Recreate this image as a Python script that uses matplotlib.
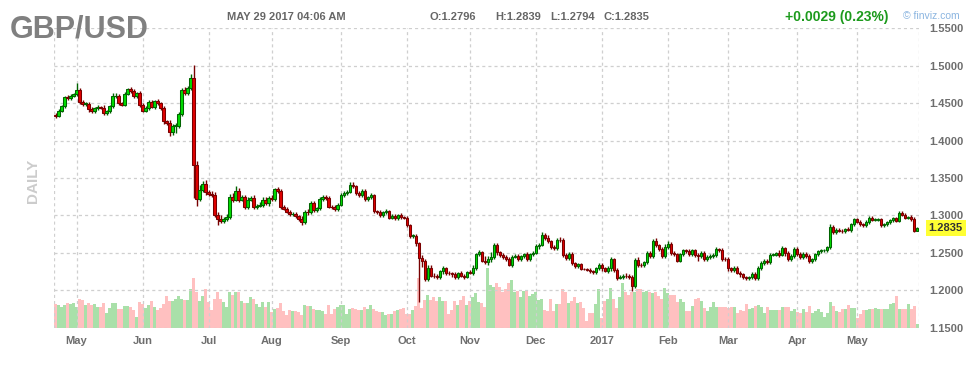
import numpy as np
import pandas as pd
import matplotlib
matplotlib.use("Agg")
import matplotlib.pyplot as plt
import matplotlib.transforms as mtransforms

plt.rcParams['font.family'] = ['Liberation Sans', 'DejaVu Sans']
plt.rcParams['lines.scale_dashes'] = False

# trading days shown on the chart
dates = pd.bdate_range("2016-04-21", "2017-05-29")

# daily closes, month by month
apr16 = [1.4330, 1.4400, 1.4455, 1.4575, 1.4565, 1.4600, 1.4615]
may16 = [1.4675, 1.4520, 1.4490, 1.4490, 1.4420, 1.4395, 1.4430, 1.4445, 1.4440, 1.4365, 1.4390,
         1.4455, 1.4590, 1.4600, 1.4500, 1.4480, 1.4625, 1.4690, 1.4660, 1.4590, 1.4630, 1.4480]
jun16 = [1.4400, 1.4430, 1.4515, 1.4450, 1.4525, 1.4500, 1.4440, 1.4255, 1.4240, 1.4110, 1.4200,
         1.4200, 1.4355, 1.4680, 1.4640, 1.4705, 1.4830, 1.3670, 1.3220, 1.3340, 1.3425, 1.3310]
jul16 = [1.3290, 1.3275, 1.3010, 1.2945, 1.2925, 1.2950, 1.2980, 1.3250, 1.3210, 1.3330, 1.3210,
         1.3240, 1.3110, 1.3210, 1.3230, 1.3110, 1.3130, 1.3140, 1.3210, 1.3160, 1.3225]
aug16 = [1.3220, 1.3350, 1.3330, 1.3110, 1.3085, 1.3045, 1.3015, 1.3020, 1.2990, 1.2955, 1.2905,
         1.3045, 1.3040, 1.3165, 1.3075, 1.3095, 1.3215, 1.3240, 1.3230, 1.3115, 1.3110, 1.3080, 1.3140]
sep16 = [1.3265, 1.3300, 1.3315, 1.3410, 1.3390, 1.3300, 1.3265, 1.3320, 1.3220, 1.3240, 1.3265,
         1.3055, 1.3040, 1.3000, 1.3040, 1.3055, 1.2970, 1.2995, 1.2960, 1.3000, 1.2975, 1.2970]
oct16 = [1.2865, 1.2725, 1.2725, 1.2625, 1.2430, 1.2385, 1.2150, 1.2300, 1.2195, 1.2190, 1.2180,
         1.2250, 1.2290, 1.2230, 1.2225, 1.2210, 1.2170, 1.2225, 1.2190, 1.2180, 1.2240]
nov16 = [1.2230, 1.2300, 1.2480, 1.2505, 1.2395, 1.2380, 1.2410, 1.2440, 1.2600, 1.2505, 1.2465,
         1.2445, 1.2410, 1.2340, 1.2445, 1.2460, 1.2415, 1.2455, 1.2480, 1.2420, 1.2480, 1.2500]
dec16 = [1.2585, 1.2605, 1.2735, 1.2700, 1.2655, 1.2570, 1.2560, 1.2670, 1.2665, 1.2470, 1.2430,
         1.2485, 1.2360, 1.2325, 1.2345, 1.2285, 1.2280, 1.2275, 1.2255, 1.2240, 1.2290, 1.2340]
jan17 = [1.2290, 1.2260, 1.2290, 1.2410, 1.2275, 1.2165, 1.2175, 1.2195, 1.2190, 1.2180, 1.2060,
         1.2400, 1.2340, 1.2335, 1.2370, 1.2490, 1.2455, 1.2660, 1.2600, 1.2555, 1.2455, 1.2580]
feb17 = [1.2620, 1.2500, 1.2480, 1.2395, 1.2480, 1.2530, 1.2520, 1.2485, 1.2530, 1.2475,
         1.2455, 1.2500, 1.2410, 1.2445, 1.2460, 1.2465, 1.2545, 1.2540, 1.2420, 1.2410]
mar17 = [1.2290, 1.2265, 1.2300, 1.2235, 1.2210, 1.2175, 1.2160, 1.2170, 1.2220, 1.2160, 1.2300,
         1.2360, 1.2390, 1.2380, 1.2475, 1.2475, 1.2490, 1.2475, 1.2560, 1.2495, 1.2415, 1.2460, 1.2550]
apr17 = [1.2480, 1.2440, 1.2485, 1.2460, 1.2390, 1.2410, 1.2480, 1.2520, 1.2530, 1.2530,
         1.2575, 1.2850, 1.2780, 1.2810, 1.2795, 1.2790, 1.2820, 1.2805, 1.2880, 1.2945]
may17 = [1.2915, 1.2880, 1.2865, 1.2910, 1.2965, 1.2940, 1.2940, 1.2945, 1.2875, 1.2880, 1.2910,
         1.2935, 1.2960, 1.2930, 1.3030, 1.3005, 1.2970, 1.2975, 1.2955, 1.2796, 1.2835]
first_open = 1.4345

# wick lengths in pips above / below the body
wick_hi = [20, 15, 25, 20, 30, 15, 25, 95, 25, 20, 30, 20, 25, 20, 25, 20, 30, 15, 25, 40,
           30, 20, 15, 20, 15, 30, 25, 20, 30, 20, 25, 20, 25, 20, 35, 20, 20, 25, 30, 20,
           40, 25, 20, 40, 30, 60, 185, 60, 60, 40, 50, 30, 40, 30, 40, 60, 30, 40, 30, 50,
           60, 40, 30, 30, 40, 30, 35, 25, 40, 30, 30, 30, 40, 20, 30, 20, 25, 20, 25, 30,
           25, 20, 30, 20, 40, 30, 30, 20, 30, 25, 30, 25, 20, 30, 20, 30, 25, 20, 30, 30,
           20, 25, 30, 25, 20, 30, 25, 20, 30, 20, 25, 20, 25, 20, 20, 25, 20, 20, 25, 30,
           30, 20, 40, 30, 40, 40, 30, 30, 25, 30, 20, 25, 20, 30, 20, 25, 20, 20, 25, 30,
           20, 30, 20, 60, 40, 75, 25, 30, 20, 30, 20, 35, 20, 25, 20, 20, 20, 25, 20, 20,
           25, 20, 40, 25, 30, 20, 30, 20, 40, 25, 25, 30, 25, 20, 20, 15, 15, 15, 20, 20,
           20, 20, 25, 20, 30, 30, 25, 20, 30, 20, 30, 25, 20, 25, 45, 25, 20, 30, 30, 20,
           30, 20, 25, 30, 40, 20, 25, 20, 20, 25, 20, 30, 20, 25, 25, 25, 20, 25, 20, 25,
           25, 20, 20, 20, 30, 25, 20, 20, 20, 20, 15, 20, 20, 20, 25, 30, 25, 20, 20, 25,
           25, 45, 25, 20, 25, 25, 20, 20, 25, 25, 30, 20, 20, 20, 20, 20, 15, 20, 30, 25,
           20, 20, 20, 15, 20, 20, 20, 25, 20, 20, 25, 20, 20, 20, 20, 15, 20, 15, 20, 20,
           20, 30, 25, 20, 20, 30, 25, 4]
wick_lo = [30, 20, 25, 20, 20, 25, 15, 20, 30, 25, 30, 35, 25, 30, 20, 25, 30, 25, 20, 25,
           20, 25, 20, 25, 20, 30, 20, 25, 30, 20, 25, 20, 20, 25, 25, 30, 40, 30, 50, 30,
           100, 30, 25, 30, 30, 30, 440, 100, 30, 30, 40, 30, 25, 30, 80, 30, 25, 30, 30, 30,
           25, 30, 25, 30, 25, 25, 30, 20, 25, 30, 20, 30, 25, 25, 30, 25, 20, 20, 25, 20,
           20, 25, 30, 25, 30, 25, 30, 25, 20, 20, 25, 20, 30, 25, 20, 20, 20, 25, 20, 25,
           30, 20, 20, 30, 25, 20, 30, 20, 25, 25, 20, 25, 20, 25, 20, 20, 25, 25, 30, 25,
           30, 590, 70, 30, 25, 25, 30, 25, 25, 30, 30, 25, 30, 25, 25, 20, 30, 20, 20, 25,
           25, 25, 25, 30, 50, 30, 30, 35, 25, 25, 25, 20, 30, 20, 25, 20, 25, 25, 30, 20,
           20, 30, 20, 25, 20, 20, 25, 20, 20, 30, 25, 30, 30, 25, 25, 20, 15, 20, 20, 25,
           25, 20, 30, 20, 25, 30, 30, 25, 20, 25, 25, 25, 75, 30, 25, 30, 25, 25, 30, 25,
           30, 30, 30, 25, 25, 30, 25, 25, 25, 25, 25, 25, 25, 30, 60, 30, 25, 25, 25, 25,
           20, 25, 30, 20, 30, 25, 20, 20, 30, 25, 25, 20, 25, 20, 30, 25, 20, 25, 25, 20,
           25, 30, 25, 35, 25, 25, 25, 25, 25, 25, 30, 30, 25, 25, 25, 25, 25, 20, 30, 25,
           25, 20, 20, 20, 20, 25, 20, 20, 20, 20, 20, 20, 20, 20, 20, 25, 25, 20, 20, 25,
           20, 20, 20, 25, 20, 25, 20, 2]

# daily volume (relative units)
volume = [69, 66, 60, 66, 72, 70, 72, 60, 84, 82, 66, 72, 66, 69, 60, 62, 72, 42, 57, 72,
          72, 54, 54, 63, 63, 60, 51, 30, 75, 69, 57, 66, 78, 60, 51, 57, 69, 93, 78, 78,
          84, 93, 84, 81, 81, 114, 147, 105, 78, 93, 114, 75, 51, 84, 105, 84, 75, 60, 105, 96,
          105, 105, 78, 72, 72, 90, 84, 69, 62, 75, 62, 75, 45, 54, 57, 72, 48, 36, 51, 48,
          48, 45, 36, 66, 63, 63, 54, 51, 51, 48, 39, 66, 39, 54, 60, 66, 66, 39, 54, 57,
          54, 51, 51, 60, 54, 66, 54, 48, 45, 45, 36, 39, 39, 48, 51, 54, 57, 39, 39, 51,
          63, 147, 57, 81, 96, 81, 90, 78, 90, 78, 78, 39, 51, 78, 66, 81, 93, 66, 78, 90,
          102, 75, 72, 60, 177, 126, 120, 132, 120, 105, 114, 132, 141, 105, 108, 90, 108, 108, 93, 99,
          105, 81, 84, 51, 48, 84, 48, 69, 69, 114, 105, 72, 78, 90, 72, 75, 57, 18, 42, 42,
          69, 114, 27, 78, 84, 117, 84, 57, 90, 132, 105, 96, 105, 105, 114, 114, 105, 108, 105, 102,
          105, 93, 84, 117, 102, 96, 96, 75, 84, 75, 48, 48, 63, 84, 87, 78, 57, 48, 60, 75,
          60, 60, 60, 60, 57, 60, 60, 42, 51, 48, 69, 54, 57, 63, 66, 60, 42, 60, 51, 51,
          51, 51, 60, 60, 60, 48, 54, 45, 42, 54, 45, 63, 42, 48, 54, 45, 30, 42, 75, 63,
          48, 45, 54, 54, 66, 57, 57, 27, 39, 51, 51, 54, 54, 57, 54, 54, 54, 54, 69, 72,
          93, 54, 54, 54, 69, 54, 63, 9]

month_labels = ["May", "Jun", "Jul", "Aug", "Sep", "Oct", "Nov", "Dec",
                "2017", "Feb", "Mar", "Apr", "May"]
price_ticks = [1.15, 1.20, 1.25, 1.30, 1.35, 1.40, 1.45, 1.50, 1.55]

symbol = "GBP/USD"
stamp = "MAY 29 2017 04:06 AM"
ohlc_text = ["O:1.2796", "H:1.2839", "L:1.2794", "C:1.2835"]
change_text = "+0.0029 (0.23%)"
last_price = 1.2835

closes = np.array(apr16 + may16 + jun16 + jul16 + aug16 + sep16 + oct16 + nov16
                  + dec16 + jan17 + feb17 + mar17 + apr17 + may17)
opens = np.r_[first_open, closes[:-1]]
highs = np.maximum(opens, closes) + np.array(wick_hi) / 10000
lows = np.minimum(opens, closes) - np.array(wick_lo) / 10000
x = np.arange(len(dates))
up = closes >= opens

W, H = 976, 366
fig = plt.figure(figsize=(W / 100, H / 100), dpi=100)
fig.patch.set_facecolor("white")
pos = [54 / W, (H - 327.5) / H, 864.7 / W, 299.2 / H]

# volume underneath
axv = fig.add_axes(pos)
axv.set_zorder(1)
axv.bar(x, volume, width=1.0, color=np.where(up, "#a9e0a9", "#ffc0c0"), linewidth=0)
axv.set_xlim(-0.5, len(x) - 0.5)
axv.set_ylim(0, max(volume) * 5.07)
axv.axis("off")

ax = fig.add_axes(pos)
ax.set_zorder(2)
ax.patch.set_visible(False)
grid_kw = dict(color="#cfcfcf", linewidth=0.9, linestyle=(0, (2.2, 2.2)))
ax.grid(True, **grid_kw)
ax.set_axisbelow(True)
for s in ax.spines.values():
    s.set_visible(False)
ax.axvline(-0.5, **grid_kw)
ax.axvline(len(x) - 0.5, **grid_kw)

# candles
wick_col = np.where(up, "#006400", "#780000")
ax.vlines(x, lows, highs, colors=wick_col, linewidth=1.0, zorder=3)
body_h = np.maximum(np.abs(closes - opens), 0.0005)
ax.bar(x, body_h, bottom=np.minimum(opens, closes), width=0.82,
       color=np.where(up, "#00dc00", "#e00000"), edgecolor=wick_col,
       linewidth=0.75, zorder=4)

ax.set_xlim(-0.5, len(x) - 0.5)
ax.set_ylim(price_ticks[0], price_ticks[-1])

month_start = [i for i in range(1, len(dates)) if dates[i].month != dates[i - 1].month]
ax.set_xticks(month_start)
ax.set_xticklabels(month_labels)
ax.set_yticks(price_ticks)
ax.set_yticklabels(["%.4f" % p for p in price_ticks])
ax.yaxis.tick_right()
ax.tick_params(axis="both", length=0, labelsize=8, labelcolor="#6e6e6e")
ax.tick_params(axis="y", pad=7.5)
ax.tick_params(axis="x", pad=6)
for lab in ax.get_xticklabels() + ax.get_yticklabels():
    lab.set_fontweight("bold")

# last price tag
trans = mtransforms.blended_transform_factory(ax.transAxes, ax.transData)
ax.text(1 + 10 / 864.7, last_price, "%.4f" % last_price, transform=trans,
        ha="left", va="center", fontsize=8, fontweight="bold", color="#333333",
        bbox=dict(boxstyle="square,pad=0.28", fc="#ffff33", ec="none"))

# header
def ftext(px, py, s, **kw):
    fig.text(px / W, 1 - py / H, s, **kw)

ftext(10, 37, symbol, fontsize=22, fontweight="bold", color="#808080", va="baseline")
ftext(227, 17, stamp, fontsize=8, fontweight="bold", color="#666666", va="center")
for px, s in zip([430, 495, 550, 603], ohlc_text):
    ftext(px, 17, s, fontsize=8, fontweight="bold", color="#666666", va="center")
ftext(785, 17.5, change_text, fontsize=10, fontweight="bold", color="#1c9a1c", va="center")
ftext(903, 16, "\u00a9 finviz.com", fontsize=7.5, color="#8bb5e0", va="center")
ftext(33.5, 181, "DAILY", fontsize=11, fontweight="bold", color="#cccccc",
      rotation=90, ha="center", va="center")

fig.savefig("out.png", dpi=100, facecolor="white")
